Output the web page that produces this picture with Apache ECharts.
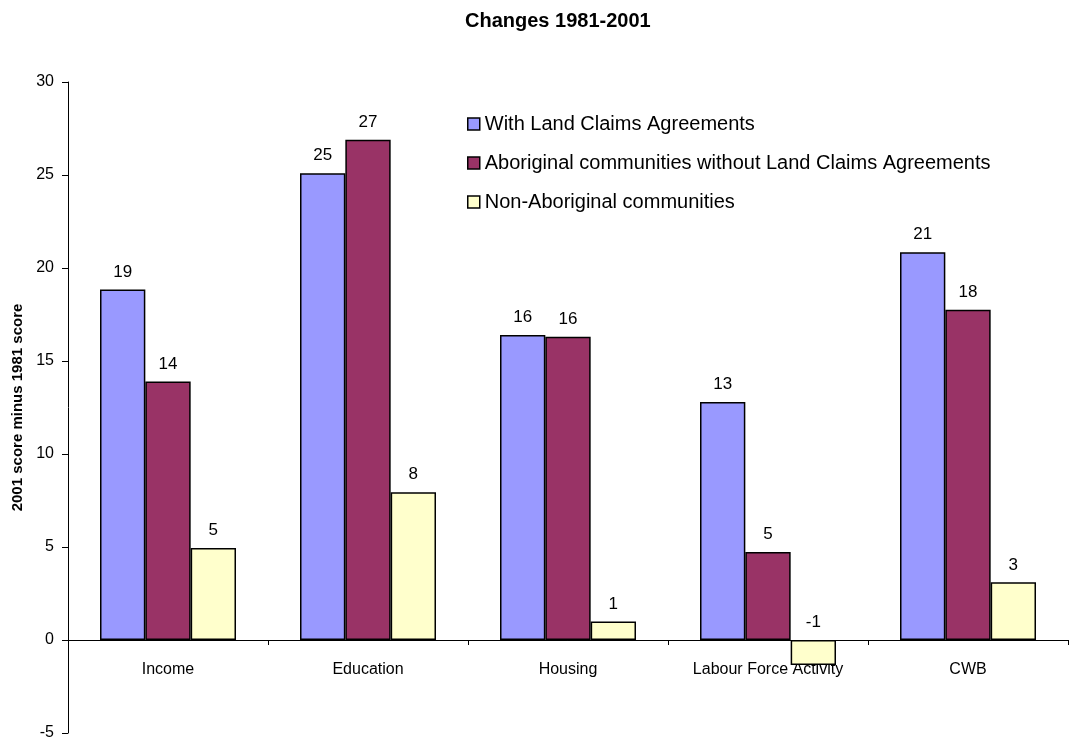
<!DOCTYPE html>
<html><head><meta charset="utf-8">
<script src="https://cdn.jsdelivr.net/npm/echarts@6/dist/echarts.min.js"></script>
<style>html,body{margin:0;padding:0;background:#fff}#c{width:1077px;height:740px}</style>
</head><body><div id="c"></div>
<script>
const categories = ['Income', 'Education', 'Housing', 'Labour Force Activity', 'CWB'];
const seriesNames = ['With Land Claims Agreements', 'Aboriginal communities without Land Claims Agreements', 'Non-Aboriginal communities'];
const withLCA = [18.85, 25.1, 16.4, 12.8, 20.85];
const withoutLCA = [13.9, 26.9, 16.3, 4.73, 17.75];
const nonAboriginal = [4.95, 7.95, 1.0, -1.35, 3.1];
const colors = ['#9999ff', '#993366', '#ffffcc'];
const chart = echarts.init(document.getElementById('c'));
const font = 'Arial, "Liberation Sans", sans-serif';
const mk = (name, data, color) => ({
  name, type: 'bar', data, barGap: '0%', barCategoryGap: '32%',
  itemStyle: { color, borderColor: '#000', borderWidth: 1.5 },
  label: { show: true, position: 'top', distance: 9, color: '#000', fontSize: 17, fontFamily: font,
    formatter: p => Math.round(p.value) }
});
chart.setOption({
  animation: false,
  title: { text: 'Changes 1981-2001', left: 460, top: 6,
    textStyle: { fontSize: 20, fontWeight: 'bold', color: '#000', fontFamily: font } },
  legend: { orient: 'vertical', left: 462, top: 109, itemGap: 19, itemWidth: 12, itemHeight: 12,
    icon: 'rect', data: seriesNames,
    itemStyle: { borderColor: '#000', borderWidth: 1.5 },
    textStyle: { fontSize: 20, color: '#000', fontFamily: font, padding: [0, 0, 0, 0] } },
  grid: { left: 68, right: 9, top: 82, bottom: 7, containLabel: false, outerBoundsMode: 'none' },
  xAxis: { type: 'category', data: categories,
    axisLine: { onZero: true, lineStyle: { color: '#000', width: 1 } },
    axisTick: { show: true, length: 5, lineStyle: { color: '#000' } },
    axisLabel: { color: '#000', fontSize: 16, fontFamily: font, margin: -71 } },
  yAxis: { type: 'value', min: -5, max: 30, interval: 5,
    name: '2001 score minus 1981 score', nameLocation: 'middle', nameGap: 43, nameRotate: 90,
    nameTextStyle: { fontSize: 15, fontWeight: 'bold', color: '#000', fontFamily: font },
    axisLine: { show: true, lineStyle: { color: '#000' } },
    axisTick: { show: true, length: 6, lineStyle: { color: '#000' } },
    splitLine: { show: false },
    axisLabel: { color: '#000', fontSize: 16, fontFamily: font, margin: 14 } },
  series: [mk(seriesNames[0], withLCA, colors[0]), mk(seriesNames[1], withoutLCA, colors[1]), mk(seriesNames[2], nonAboriginal, colors[2])]
});
</script></body></html>
